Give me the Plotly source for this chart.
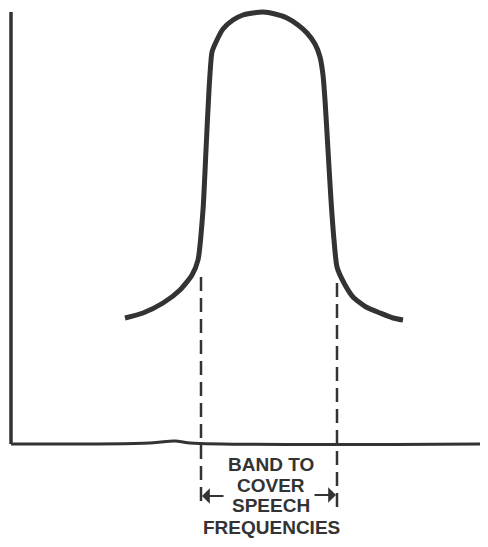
import plotly.graph_objects as go

curve_x = [125, 143, 163, 180, 192, 198, 203, 206, 209, 212, 216, 223, 233, 243, 253, 263, 275, 287,
           298, 307, 315, 320, 323, 325, 328, 331, 334, 337, 344, 353, 366, 380, 393, 403]
curve_y = [318, 313, 303, 290, 275, 260, 210, 150, 90, 52, 42, 29, 20, 15, 13, 12, 14, 18,
           25, 33, 44, 57, 75, 100, 150, 200, 240, 267, 283, 297, 307, 313, 318, 320]

# axes of the sketch
yaxis_x = [11, 11]
yaxis_y = [12, 444]
xaxis_x = [11, 150, 175, 190, 488]
xaxis_y = [444, 443, 441, 443, 444]

# edges of the speech band
band_lo = 201
band_hi = 337
band_top = [277, 283]
band_bottom = 508

label_lines = ["BAND TO", "COVER", "SPEECH", "FREQUENCIES"]
label_y = [464, 485, 505, 527]

ink = "#333333"
pad = 8  # the page body has an 8px margin

fig = go.Figure()

fig.add_trace(go.Scatter(x=yaxis_x, y=yaxis_y, mode="lines",
                         line=dict(color=ink, width=3.5), hoverinfo="skip"))
fig.add_trace(go.Scatter(x=xaxis_x, y=xaxis_y, mode="lines",
                         line=dict(color=ink, width=3, shape="spline"), hoverinfo="skip"))

for bx, top in zip([band_lo, band_hi], band_top):
    fig.add_trace(go.Scatter(x=[bx, bx], y=[top, band_bottom], mode="lines",
                             line=dict(color=ink, width=2.5, dash="14px,7px"), hoverinfo="skip"))

fig.add_trace(go.Scatter(x=curve_x, y=curve_y, mode="lines",
                         line=dict(color=ink, width=5, shape="spline", smoothing=0.6),
                         hoverinfo="skip"))

# label under the band
for txt, ty in zip(label_lines, label_y):
    fig.add_annotation(x=(band_lo + band_hi) / 2 + 2, y=ty, text="<b>" + txt + "</b>", showarrow=False,
                       font=dict(family="Liberation Sans, Arial", size=19, color=ink),
                       xanchor="center", yanchor="middle")

# arrows pointing out to the band edges
fig.add_annotation(x=band_lo + 1, y=496, ax=band_lo + 24, ay=496, xref="x", yref="y",
                   axref="x", ayref="y", text="", showarrow=True, arrowhead=1,
                   arrowsize=1.3, arrowwidth=2, arrowcolor=ink)
fig.add_annotation(x=band_hi - 1, y=495, ax=band_hi - 24, ay=495, xref="x", yref="y",
                   axref="x", ayref="y", text="", showarrow=True, arrowhead=1,
                   arrowsize=1.3, arrowwidth=2, arrowcolor=ink)

fig.update_layout(
    width=488 - pad, height=547 - pad,
    margin=dict(l=0, r=0, t=0, b=0),
    paper_bgcolor="white", plot_bgcolor="white",
    showlegend=False,
    xaxis=dict(range=[pad, 488], visible=False, fixedrange=True),
    yaxis=dict(range=[547, pad], visible=False, fixedrange=True),
)

fig.write_html("out.html")
